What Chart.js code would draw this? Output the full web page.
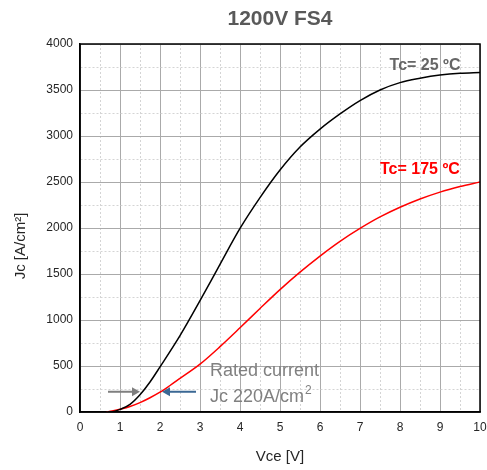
<!DOCTYPE html>
<html>
<head>
<meta charset="utf-8">
<script src="https://cdn.jsdelivr.net/npm/chart.js@4.4.1/dist/chart.umd.min.js"></script>
<style>
  html, body { margin: 0; padding: 0; background: #fff; }
  #wrap { width: 487px; height: 470px; }
</style>
</head>
<body>
<div id="wrap"><canvas id="fs4_chart" width="487" height="470"></canvas></div>
<script>
// Vce [V] / Jc [A/cm2]
let vce25 = [0.7, 0.85, 1, 1.25, 1.5, 1.75, 2, 2.5, 3, 3.5, 4, 4.5, 5, 5.5, 6, 6.5, 7, 7.5, 8, 8.5, 9, 9.5, 10];
let jc25  = [0, 6, 28, 84, 188, 326, 490, 830, 1210, 1605, 1995, 2330, 2630, 2880, 3075, 3240, 3385, 3500, 3580, 3627, 3662, 3682, 3690];

let vce175 = [0.66, 0.8, 1, 1.25, 1.5, 1.75, 2, 2.25, 2.5, 3, 3.5, 4, 4.5, 5, 5.5, 6, 6.5, 7, 7.5, 8, 8.5, 9, 9.5, 10];
let jc175  = [0, 10, 30, 60, 102, 155, 215, 288, 365, 520, 710, 915, 1125, 1330, 1520, 1695, 1855, 1995, 2120, 2225, 2315, 2390, 2450, 2500];

let xTicks = [0, 1, 2, 3, 4, 5, 6, 7, 8, 9, 10];
let yTicks = [0, 500, 1000, 1500, 2000, 2500, 3000, 3500, 4000];

let ratedJc = 220;          // rated current density marker
let arrow25 = [0.7, 1.5];   // from, to (Vce)
let arrow175 = [2.9, 2.05];

function toPoints(xs, ys) {
    let pts = [];
    for (let i = 0; i < xs.length; i++) pts.push({x: xs[i], y: ys[i]});
    return pts;
}

const FONT = "'Liberation Sans', Arial, sans-serif";

function drawArrow(ctx, x1, x2, y, color) {
    let dir = x2 > x1 ? 1 : -1;
    let head = 8;
    ctx.save();
    ctx.strokeStyle = color;
    ctx.fillStyle = color;
    ctx.lineWidth = 2;
    ctx.beginPath();
    ctx.moveTo(x1, y);
    ctx.lineTo(x2 - dir * head, y);
    ctx.stroke();
    ctx.beginPath();
    ctx.moveTo(x2, y);
    ctx.lineTo(x2 - dir * head, y - 4.5);
    ctx.lineTo(x2 - dir * head, y + 4.5);
    ctx.closePath();
    ctx.fill();
    ctx.restore();
}

// frame, titles and the text / arrow annotations
let decor = {
    id: 'decor',
    afterDraw(chart) {
        let ctx = chart.ctx;
        let a = chart.chartArea;
        let xs = chart.scales.x, ys = chart.scales.y;

        ctx.save();
        ctx.strokeStyle = '#000';
        ctx.lineWidth = 1.5;
        ctx.strokeRect(a.left, a.top, a.right - a.left, a.bottom - a.top);

        ctx.textBaseline = 'middle';
        ctx.textAlign = 'center';
        ctx.fillStyle = '#595959';
        ctx.font = 'bold 21px ' + FONT;
        ctx.fillText('1200V FS4', (a.left + a.right) / 2, 19);

        ctx.fillStyle = '#262626';
        ctx.font = '15px ' + FONT;
        ctx.fillText('Vce [V]', (a.left + a.right) / 2, 457);

        ctx.save();
        ctx.translate(21, 246);
        ctx.rotate(-Math.PI / 2);
        ctx.fillText('Jc [A/cm²]', 0, 0);
        ctx.restore();

        ctx.textAlign = 'left';
        ctx.font = 'bold 16px ' + FONT;
        ctx.fillStyle = '#666666';
        ctx.fillText('Tc= 25 ºC', xs.getPixelForValue(7.74), ys.getPixelForValue(3760));
        ctx.fillStyle = '#ff0000';
        ctx.fillText('Tc= 175 ºC', xs.getPixelForValue(7.5), ys.getPixelForValue(2630));

        ctx.font = '18px ' + FONT;
        ctx.fillStyle = '#808080';
        ctx.fillText('Rated current', xs.getPixelForValue(3.25), ys.getPixelForValue(440));
        let jx = xs.getPixelForValue(3.25), jy = ys.getPixelForValue(165);
        ctx.fillText('Jc 220A/cm', jx, jy);
        let w = ctx.measureText('Jc 220A/cm').width;
        ctx.font = '12px ' + FONT;
        ctx.fillText('2', jx + w + 1, jy - 6);

        let ay = ys.getPixelForValue(ratedJc);
        drawArrow(ctx, xs.getPixelForValue(arrow25[0]), xs.getPixelForValue(arrow25[1]), ay, '#7f7f7f');
        drawArrow(ctx, xs.getPixelForValue(arrow175[0]), xs.getPixelForValue(arrow175[1]), ay, '#3b6894');
        ctx.restore();
    }
};

let FS4Chart = new Chart(document.getElementById('fs4_chart'), {
    type: 'line',
    data: {
        datasets: [
            {label: 'Tc= 25 ºC', data: toPoints(vce25, jc25), borderColor: '#000000', borderWidth: 1.5},
            {label: 'Tc= 175 ºC', data: toPoints(vce175, jc175), borderColor: '#ff0000', borderWidth: 1.5}
        ]
    },
    options: {
        responsive: false,
        animation: false,
        devicePixelRatio: 1,
        layout: {padding: {left: 0, right: 0, top: 44, bottom: 0}},
        elements: {
            point: {radius: 0},
            line: {cubicInterpolationMode: 'monotone'}
        },
        plugins: {
            legend: {display: false},
            tooltip: {enabled: false}
        },
        scales: {
            x: {
                type: 'linear',
                min: xTicks[0],
                max: xTicks[xTicks.length - 1],
                afterFit: (s) => { s.height = 58; s.paddingRight = 7; },
                ticks: {
                    stepSize: 0.5,
                    autoSkip: false,
                    maxRotation: 0,
                    padding: 8,
                    color: '#262626',
                    font: {family: FONT, size: 12},
                    callback: (v) => xTicks.includes(v) ? v : ''
                },
                grid: {
                    drawTicks: false,
                    lineWidth: 1,
                    color: (c) => c.tick && xTicks.includes(c.tick.value) ? '#aaaaaa' : '#d4d4d4'
                },
                border: {
                    color: '#000',
                    width: 1.5,
                    dash: (c) => c.tick && !xTicks.includes(c.tick.value) ? [2, 2] : []
                }
            },
            y: {
                type: 'linear',
                min: yTicks[0],
                max: yTicks[yTicks.length - 1],
                afterFit: (s) => { s.width = 80; },
                ticks: {
                    stepSize: 250,
                    autoSkip: false,
                    padding: 7,
                    color: '#262626',
                    font: {family: FONT, size: 12},
                    callback: (v) => yTicks.includes(v) ? v : ''
                },
                grid: {
                    drawTicks: false,
                    lineWidth: 1,
                    color: (c) => c.tick && yTicks.includes(c.tick.value) ? '#aaaaaa' : '#d4d4d4'
                },
                border: {
                    color: '#000',
                    width: 1.5,
                    dash: (c) => c.tick && !yTicks.includes(c.tick.value) ? [2, 2] : []
                }
            }
        }
    },
    plugins: [decor]
});
</script>
</body>
</html>
